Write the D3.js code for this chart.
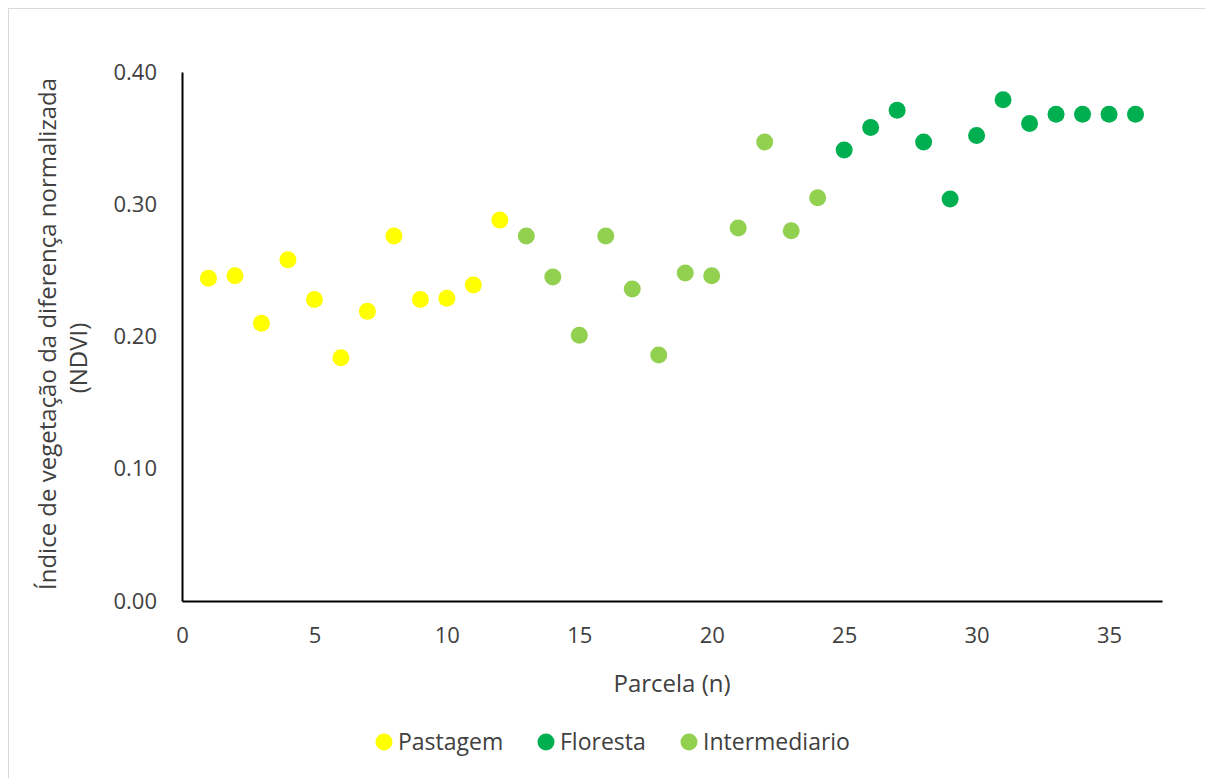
<!DOCTYPE html>
<html>
<head>
<meta charset="utf-8">
<script src="https://cdn.jsdelivr.net/npm/d3@7"></script>
<style>
  body { margin: 0; background: #fff; }
  text { font-family: "Open Sans", sans-serif; fill: #404040; }
</style>
</head>
<body>
<div id="chart"></div>
<script>
// DATA
const pastagemN = [1, 2, 3, 4, 5, 6, 7, 8, 9, 10, 11, 12];
const pastagemNdvi = [0.244, 0.246, 0.210, 0.258, 0.228, 0.184, 0.219, 0.276, 0.228, 0.229, 0.239, 0.288];

const intermediarioN = [13, 14, 15, 16, 17, 18, 19, 20, 21, 22, 23, 24];
const intermediarioNdvi = [0.276, 0.245, 0.201, 0.276, 0.236, 0.186, 0.248, 0.246, 0.282, 0.347, 0.280, 0.305];

const florestaN = [25, 26, 27, 28, 29, 30, 31, 32, 33, 34, 35, 36];
const florestaNdvi = [0.341, 0.358, 0.371, 0.347, 0.304, 0.352, 0.379, 0.361, 0.368, 0.368, 0.368, 0.368];

const xTicks = [0, 5, 10, 15, 20, 25, 30, 35];
const yTicks = [0, 0.1, 0.2, 0.3, 0.4];

const legendNames = ['Pastagem', 'Floresta', 'Intermediario'];

// SETTINGS
const width = 1205;
const height = 778;
const plot = { left: 182, right: 1162, top: 72, bottom: 601 };
const colors = { Pastagem: '#FFFF00', Floresta: '#00B050', Intermediario: '#92D050' };
const dotRadius = 8.5;

const series = [
  { name: 'Pastagem', n: pastagemN, v: pastagemNdvi },
  { name: 'Floresta', n: florestaN, v: florestaNdvi },
  { name: 'Intermediario', n: intermediarioN, v: intermediarioNdvi }
];

// SCALES
const x = d3.scaleLinear().domain([0, 37]).range([plot.left, plot.right]);
const y = d3.scaleLinear().domain([0, 0.4]).range([plot.bottom, plot.top]);

const svg = d3.select('#chart')
  .append('svg')
  .attr('width', width)
  .attr('height', height);

// frame
svg.append('rect')
  .attr('x', 8.5).attr('y', 8.5)
  .attr('width', 1200).attr('height', 790)
  .attr('fill', '#fff')
  .attr('stroke', '#d9d9d9')
  .attr('stroke-width', 1);

// AXES
const xAxis = d3.axisBottom(x)
  .tickValues(xTicks)
  .tickSize(0)
  .tickPadding(26)
  .tickFormat(d3.format('d'));

const yAxis = d3.axisLeft(y)
  .tickValues(yTicks)
  .tickSize(0)
  .tickPadding(25)
  .tickFormat(d3.format('.2f'));

const xAxisGroup = svg.append('g')
  .attr('transform', `translate(0, ${plot.bottom})`)
  .call(xAxis);

const yAxisGroup = svg.append('g')
  .attr('transform', `translate(${plot.left}, 0)`)
  .call(yAxis);

[xAxisGroup, yAxisGroup].forEach(g => {
  g.select('.domain').attr('stroke', '#000').attr('stroke-width', 2);
  g.selectAll('text')
    .attr('font-family', '"Open Sans", sans-serif')
    .attr('font-size', 22)
    .attr('fill', '#404040');
});

// POINTS
series.forEach(s => {
  svg.append('g')
    .selectAll('circle')
    .data(s.n.map((n, i) => ({ n: n, v: s.v[i] })))
    .enter()
    .append('circle')
      .attr('cx', d => x(d.n))
      .attr('cy', d => y(d.v))
      .attr('r', dotRadius)
      .attr('fill', colors[s.name]);
});

// AXIS TITLES
svg.append('text')
  .attr('x', 672)
  .attr('y', 692)
  .attr('text-anchor', 'middle')
  .attr('font-size', 24)
  .text('Parcela (n)');

svg.append('text')
  .attr('transform', 'translate(56, 334) rotate(-90)')
  .attr('text-anchor', 'middle')
  .attr('font-size', 24)
  .text('Índice de vegetação da diferença normalizada');

svg.append('text')
  .attr('transform', 'translate(87, 358) rotate(-90)')
  .attr('text-anchor', 'middle')
  .attr('font-size', 24)
  .text('(NDVI)');

// LEGEND
const legendX = [384, 546, 689];
const legend = svg.append('g');
legendNames.forEach((name, i) => {
  legend.append('circle')
    .attr('cx', legendX[i])
    .attr('cy', 742)
    .attr('r', dotRadius)
    .attr('fill', colors[name]);
  legend.append('text')
    .attr('x', legendX[i] + 14)
    .attr('y', 750)
    .attr('font-size', 23)
    .text(name);
});
</script>
</body>
</html>
